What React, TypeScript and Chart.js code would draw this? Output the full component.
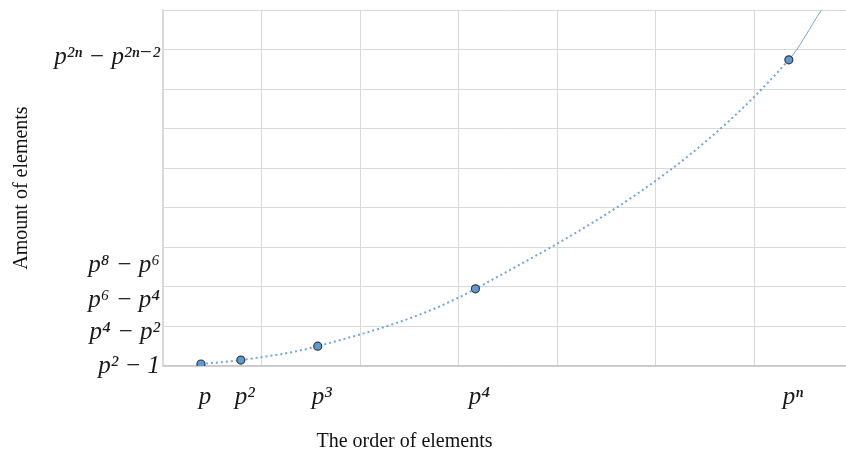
import React, { useEffect, useRef } from "react";
import { Chart, registerables } from "chart.js";

Chart.register(...registerables);

// Data (axis units: x = order scale, y = amount scale)
const xValues = [0.385, 0.79, 1.57, 3.17, 6.35, 6.68];
const yValues = [0.05, 0.15, 0.5, 1.95, 7.74, 9.0];
const pointRadii = [4, 4, 4, 4, 4, 0];

const xTickValues = [0.385, 0.79, 1.57, 3.17, 6.35];
const xTickLabels = ["p", "p²", "p³", "p⁴", "pⁿ"];

const yTickValues = [0, 0.86, 1.67, 2.55, 7.81];
const yTickLabels = ["p² − 1", "p⁴ − p²", "p⁶ − p⁴", "p⁸ − p⁶", "p²ⁿ − p²ⁿ⁻²"];

const xGridTicks = [0, 1, 2, 3, 4, 5, 6];
const yGridTicks = [0, 1, 2, 3, 4, 5, 6, 7, 8, 9];

const xTitle = "The order of elements";
const yTitle = "Amount of elements";

const X_MIN = 0;
const X_MAX = 6.93;
const Y_MIN = 0;
const Y_MAX = 9;

const GRID = "#d9d9d9";
const BORDER = "#c8c8c8";
const LINE = "#6fa6dc";
const MARKER = "#5b9bd5";
const TICK_FONT = { family: "'Liberation Serif', 'DejaVu Serif', serif", size: 25, style: "italic" as const };
const TITLE_FONT = { family: "'Liberation Serif', serif", size: 20 };

const xTitlePlugin = {
  id: "xTitlePlugin",
  afterDraw(chart: any) {
    const { ctx, chartArea, scales } = chart;
    const x = scales.x.getPixelForValue(2.45);
    ctx.save();
    ctx.font = `${TITLE_FONT.size}px ${TITLE_FONT.family}`;
    ctx.fillStyle = "#111";
    ctx.textAlign = "center";
    ctx.textBaseline = "middle";
    ctx.fillText(xTitle, x, chartArea.bottom + 76);
    ctx.restore();
  },
};

export default function App() {
  const ref = useRef<HTMLCanvasElement | null>(null);

  useEffect(() => {
    if (!ref.current) return;
    const chart = new Chart(ref.current, {
      type: "line",
      data: {
        datasets: [
          {
            data: xValues.map((x, i) => ({ x, y: yValues[i] })),
            xAxisID: "x",
            yAxisID: "y",
            borderColor: LINE,
            borderWidth: 2,
            borderDash: [2, 3],
            cubicInterpolationMode: "monotone",
            pointRadius: pointRadii,
            pointBackgroundColor: MARKER,
            pointBorderColor: "#3a3a3a",
            pointBorderWidth: 1.2,
            segment: {
              borderDash: (c: any) => (c.p1DataIndex === xValues.length - 1 ? [] : [2, 3]),
              borderWidth: (c: any) => (c.p1DataIndex === xValues.length - 1 ? 1 : 2),
            },
            fill: false,
          } as any,
        ],
      },
      options: {
        animation: false,
        responsive: false,
        maintainAspectRatio: false,
        layout: { autoPadding: false, padding: { top: 10, right: 0, left: 0, bottom: 0 } },
        plugins: { legend: { display: false }, tooltip: { enabled: false }, title: { display: false } },
        scales: {
          x: {
            type: "linear",
            position: "bottom",
            min: X_MIN,
            max: X_MAX,
            weight: 0,
            afterBuildTicks: (s: any) => {
              s.ticks = xGridTicks.map((v) => ({ value: v }));
            },
            afterFit: (s: any) => {
              s.height = 0;
              s.paddingLeft = 0;
              s.paddingRight = 0;
            },
            ticks: { display: false },
            grid: { color: GRID, lineWidth: 1, drawTicks: false },
            border: { display: true, color: BORDER, width: 1.5 },
          },
          xl: {
            type: "linear",
            position: "bottom",
            min: X_MIN,
            max: X_MAX,
            weight: 1,
            afterBuildTicks: (s: any) => {
              s.ticks = xTickValues.map((v) => ({ value: v }));
            },
            afterFit: (s: any) => {
              s.height = 92;
              s.paddingLeft = 0;
              s.paddingRight = 0;
            },
            ticks: {
              autoSkip: false,
              maxRotation: 0,
              padding: 16,
              labelOffset: 4,
              color: "#1a1a1a",
              font: TICK_FONT,
              callback: (_v: any, i: number) => xTickLabels[i],
            },
            grid: { display: false, drawTicks: false },
            border: { display: false },
          },
          y: {
            type: "linear",
            position: "left",
            min: Y_MIN,
            max: Y_MAX,
            weight: 0,
            afterBuildTicks: (s: any) => {
              s.ticks = yGridTicks.map((v) => ({ value: v }));
            },
            afterFit: (s: any) => {
              s.width = 0;
              s.paddingTop = 0;
              s.paddingBottom = 0;
            },
            ticks: { display: false },
            grid: { color: GRID, lineWidth: 1, drawTicks: false },
            border: { display: true, color: GRID, width: 1.5 },
          },
          yl: {
            type: "linear",
            position: "left",
            min: Y_MIN,
            max: Y_MAX,
            weight: 1,
            afterBuildTicks: (s: any) => {
              s.ticks = yTickValues.map((v) => ({ value: v }));
            },
            afterFit: (s: any) => {
              s.width = 163;
              s.paddingTop = 0;
              s.paddingBottom = 0;
            },
            ticks: {
              autoSkip: false,
              padding: 3,
              color: "#1a1a1a",
              font: TICK_FONT,
              callback: (_v: any, i: number) => yTickLabels[i],
            },
            grid: { display: false, drawTicks: false },
            border: { display: false },
            title: {
              display: true,
              text: yTitle,
              color: "#111",
              font: TITLE_FONT,
              padding: { top: 10, bottom: 0 },
            },
          },
        },
      } as any,
      plugins: [xTitlePlugin],
    });
    return () => chart.destroy();
  }, []);

  return (
    <div style={{ position: "fixed", left: 0, top: 0, width: 846, height: 458, background: "#fff" }}>
      <canvas ref={ref} width={846} height={458} style={{ width: 846, height: 458 }} />
    </div>
  );
}
